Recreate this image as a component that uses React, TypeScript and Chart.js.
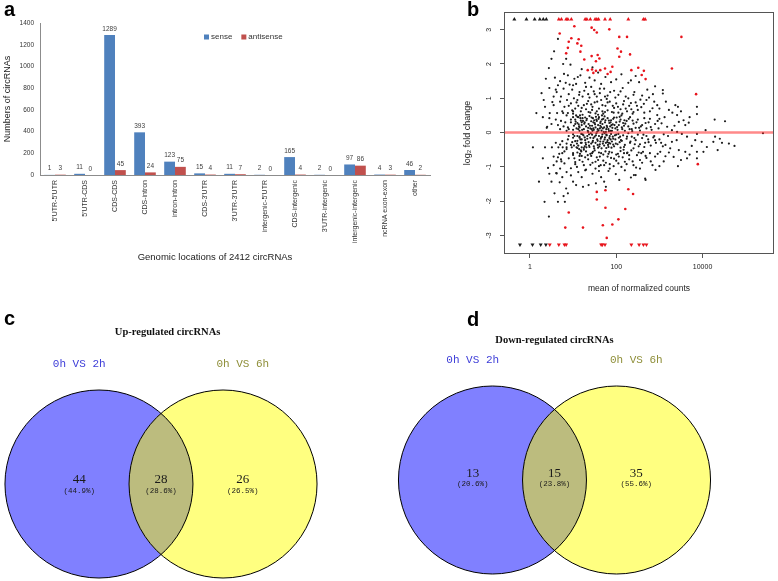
import React, { useEffect, useRef } from 'react';
import { Chart, registerables } from 'chart.js';

Chart.register(...registerables);

// ---------------- Panel a : genomic locations ----------------
const barCategories = [
  "5'UTR-5'UTR", "5'UTR-CDS", 'CDS-CDS', 'CDS-intron', 'intron-intron', "CDS-3'UTR",
  "3'UTR-3'UTR", "intergenic-5'UTR", 'CDS-intergenic', "3'UTR-intergenic",
  'intergenic-intergenic', 'ncRNA exon-exon', 'other',
];
const senseCounts = [1, 11, 1289, 393, 123, 15, 11, 2, 165, 2, 97, 4, 46];
const antisenseCounts = [3, 0, 45, 24, 75, 4, 7, 0, 4, 0, 86, 3, 2];
const barSeriesNames = ['sense', 'antisense'];
const barYTicks = [0, 200, 400, 600, 800, 1000, 1200, 1400];
const barXTitle = 'Genomic locations of 2412 circRNAs';
const barYTitle = 'Numbers of circRNAs';

// ---------------- Panel b : MA plot (x = log10 mean of normalized counts, y = log2 fold change) ----------------
const maXTicks = [0, 2, 4];
const maXTickLabels = ['1', '100', '10000'];
const maYTicks = [-3, -2, -1, 0, 1, 2, 3];
const maXTitle = 'mean of normalized counts';
const maYTitle = 'log\u2082 fold change';
const maAxisMin = -0.6;
const maAxisMax = 5.655;
const maYMin = -3.54;
const maYMax = 3.51;
const maCapTop = 3.3;
const maCapBottom = -3.27;

const maBlackPoints: number[][] = [
  // lfc > 1
  [0.65, 2.73], [0.56, 2.37], [0.5, 2.15], [0.44, 1.88], [0.37, 1.57], [0.27, 1.15], [0.77, 2.0], [0.84, 2.15],
  [0.79, 1.71], [0.65, 1.38], [0.62, 1.18], [0.94, 1.98], [0.88, 1.67], [1.03, 1.57], [1.11, 1.62],
  [1.07, 1.42], [1.17, 1.67], [1.3, 1.33], [1.42, 1.33], [1.65, 1.42], [1.88, 1.47], [2.28, 1.45], [2.34, 1.52],
  [2.53, 1.47], [3.08, 1.24], [3.08, 1.14], [0.98, 1.25], [1.15, 1.18], [1.22, 1.05], [1.35, 1.12], [1.48, 1.2],
  [1.55, 1.05], [1.62, 1.15], [1.72, 1.28], [1.8, 1.08], [1.95, 1.22], [2.05, 1.1], [2.15, 1.3], [2.22, 1.05],
  [2.42, 1.18], [2.6, 1.08], [2.72, 1.25], [2.85, 1.12], [1.28, 1.45], [1.38, 1.6], [1.5, 1.52], [1.58, 1.75],
  [1.75, 1.62], [2.0, 1.55], [2.12, 1.7], [0.72, 1.05], [0.9, 1.12], [1.0, 1.38], [0.58, 1.6], [0.83, 1.45],
  [1.2, 1.85], [1.45, 1.9], [2.45, 1.65], [2.9, 1.35],
  // 0.5 .. 1.3
  [0.52, 0.89], [0.15, 0.57], [0.46, 0.57], [0.63, 0.57], [0.77, 0.57], [0.88, 0.57], [1.0, 0.55], [0.35, 0.75],
  [0.55, 0.8], [0.7, 0.9], [0.8, 0.75], [0.95, 0.85], [1.05, 0.7], [1.1, 0.95], [1.18, 0.62], [1.25, 0.8],
  [1.3, 0.68], [1.35, 0.92], [1.4, 0.58], [1.45, 0.75], [1.5, 0.88], [1.55, 0.62], [1.6, 0.7], [1.65, 0.95],
  [1.7, 0.55], [1.75, 0.78], [1.8, 0.65], [1.85, 0.9], [1.9, 0.6], [1.95, 0.72], [2.0, 0.85], [2.05, 0.58],
  [2.1, 0.68], [2.18, 0.92], [2.25, 0.62], [2.3, 0.78], [2.38, 0.55], [2.45, 0.88], [2.5, 0.66], [2.58, 0.74],
  [2.65, 0.58], [2.7, 0.95], [2.78, 0.62], [2.84, 0.71], [2.95, 0.8], [2.95, 0.51], [3.22, 0.66], [3.37, 0.8],
  [3.43, 0.75], [3.41, 0.51], [3.87, 0.75], [3.87, 0.54], [1.22, 0.52], [1.42, 0.82], [1.58, 0.52], [1.68, 0.62],
  [1.78, 0.98], [2.12, 0.5], [2.35, 0.68], [1.12, 0.78], [0.98, 0.65],
  [1.02, 1.0], [1.08, 0.88], [1.14, 1.1], [1.2, 0.72], [1.26, 1.22], [1.32, 0.84], [1.38, 1.02], [1.44, 0.66],
  [1.5, 1.12], [1.56, 0.9], [1.62, 1.28], [1.68, 0.8], [1.74, 1.05], [1.8, 0.88], [1.86, 1.18], [1.92, 0.78],
  [1.98, 1.02], [2.04, 0.75], [2.1, 1.2], [2.16, 0.82], [2.22, 0.7], [2.28, 1.0], [2.34, 0.86], [2.4, 1.1],
  [2.48, 0.78], [2.56, 0.96], [2.64, 0.84], [2.76, 1.02], [2.88, 0.9], [3.0, 0.7], [3.15, 0.9], [3.3, 0.58],
  [3.5, 0.62], [3.7, 0.45], [0.6, 1.25], [0.7, 1.5], [0.78, 1.28], [0.86, 0.95], [0.92, 1.4], [0.55, 1.05],
  [0.45, 1.3], [0.32, 0.95],
  // 0 .. 0.5
  [0.39, 0.14], [0.4, 0.17], [0.9, 0.1], [0.95, 0.3], [1.0, 0.45], [1.02, 0.2], [1.05, 0.38], [1.08, 0.12],
  [1.1, 0.28], [1.12, 0.45], [1.15, 0.05], [1.18, 0.35], [1.2, 0.22], [1.22, 0.42], [1.25, 0.1], [1.27, 0.3],
  [1.3, 0.18], [1.32, 0.4], [1.34, 0.05], [1.36, 0.25], [1.38, 0.48], [1.4, 0.12], [1.42, 0.33], [1.44, 0.2],
  [1.46, 0.42], [1.48, 0.08], [1.5, 0.28], [1.52, 0.15], [1.54, 0.38], [1.56, 0.03], [1.58, 0.22], [1.6, 0.45],
  [1.62, 0.12], [1.64, 0.32], [1.66, 0.06], [1.68, 0.25], [1.7, 0.4], [1.72, 0.15], [1.74, 0.3], [1.76, 0.02],
  [1.78, 0.2], [1.8, 0.42], [1.82, 0.1], [1.84, 0.28], [1.86, 0.18], [1.88, 0.36], [1.9, 0.05], [1.92, 0.24],
  [1.95, 0.44], [1.98, 0.12], [2.0, 0.3], [2.03, 0.08], [2.06, 0.22], [2.1, 0.38], [2.13, 0.15], [2.16, 0.28],
  [2.2, 0.05], [2.24, 0.34], [2.28, 0.18], [2.32, 0.45], [2.36, 0.1], [2.4, 0.26], [2.45, 0.14], [2.5, 0.38],
  [2.55, 0.06], [2.6, 0.22], [2.65, 0.42], [2.7, 0.12], [2.75, 0.3], [2.82, 0.08], [2.9, 0.25], [3.05, 0.27],
  [3.18, 0.17], [3.29, 0.07], [3.41, 0.02], [3.6, 0.22], [3.68, 0.29], [3.56, 0.36], [3.45, 0.31], [4.28, 0.38],
  [4.52, 0.33], [4.07, 0.07], [3.0, 0.4], [3.12, 0.45], [2.98, 0.12], [3.35, 0.2], [1.14, 0.18], [1.28, 0.44],
  [1.47, 0.3], [1.53, 0.46], [1.63, 0.2], [1.73, 0.47], [1.83, 0.35], [1.57, 0.1], [1.67, 0.38], [1.77, 0.1],
  [1.87, 0.05], [1.93, 0.4], [2.08, 0.46], [2.18, 0.2], [2.38, 0.35], [1.35, 0.14], [1.45, 0.05], [1.65, 0.16],
  [0.3, 0.45], [0.45, 0.42], [0.6, 0.38], [0.72, 0.34], [0.82, 0.3], [0.5, 0.25], [0.65, 0.22], [0.78, 0.18],
  [0.88, 0.15], [0.7, 0.1], [0.85, 0.05], [1.15, 0.15], [1.05, 0.25], [0.95, 0.38], [0.85, 0.5], [0.75, 0.62],
  [1.2, 0.3], [1.1, 0.46], [1.0, 0.62], [0.9, 0.78], [1.0, 0.08], [1.06, 0.32], [1.12, 0.1], [1.17, 0.42],
  [1.07, 0.5],
  // -0.5 .. 0
  [0.07, -0.43], [0.35, -0.43], [0.51, -0.43], [0.66, -0.43], [0.76, -0.43], [0.85, -0.43], [0.97, -0.43],
  [1.08, -0.43], [1.2, -0.43], [1.31, -0.43], [0.6, -0.3], [0.75, -0.25], [0.88, -0.2], [1.0, -0.15], [1.1, -0.1],
  [0.7, -0.35], [0.85, -0.32], [0.98, -0.28], [1.1, -0.24], [1.2, -0.2], [0.9, -0.1], [1.0, -0.05],
  [1.12, -0.38], [1.15, -0.12], [1.18, -0.3], [1.22, -0.05], [1.25, -0.45], [1.28, -0.22], [1.3, -0.35],
  [1.33, -0.1], [1.36, -0.28], [1.38, -0.42], [1.4, -0.15], [1.42, -0.32], [1.44, -0.06], [1.46, -0.24],
  [1.48, -0.4], [1.5, -0.12], [1.52, -0.3], [1.54, -0.02], [1.56, -0.2], [1.58, -0.44], [1.6, -0.1],
  [1.62, -0.34], [1.64, -0.18], [1.66, -0.46], [1.68, -0.05], [1.7, -0.26], [1.72, -0.38], [1.74, -0.14],
  [1.76, -0.3], [1.78, -0.08], [1.8, -0.22], [1.82, -0.42], [1.84, -0.16], [1.86, -0.32], [1.88, -0.04],
  [1.9, -0.26], [1.92, -0.12], [1.95, -0.4], [1.98, -0.2], [2.0, -0.06], [2.03, -0.34], [2.06, -0.15],
  [2.1, -0.44], [2.13, -0.24], [2.16, -0.08], [2.2, -0.36], [2.24, -0.18], [2.28, -0.02], [2.32, -0.3],
  [2.36, -0.12], [2.4, -0.46], [2.45, -0.22], [2.5, -0.06], [2.55, -0.34], [2.6, -0.16], [2.65, -0.42],
  [2.7, -0.1], [2.75, -0.28], [2.8, -0.38], [2.86, -0.14], [2.92, -0.3], [3.0, -0.2], [3.08, -0.4],
  [3.14, -0.36], [3.25, -0.46], [3.29, -0.27], [3.52, -0.04], [3.64, -0.12], [3.83, -0.22], [3.75, -0.39],
  [3.87, -0.04], [3.98, -0.27], [4.25, -0.27], [4.29, -0.12], [4.45, -0.3], [4.61, -0.32], [4.74, -0.39],
  [5.4, -0.02], [3.2, -0.1], [3.4, -0.22], [3.1, -0.05], [1.57, -0.36], [1.67, -0.12], [1.77, -0.45],
  [1.87, -0.2], [1.47, -0.16], [1.37, -0.05], [1.27, -0.14], [1.63, -0.26], [1.73, -0.02], [1.83, -0.3],
  [1.93, -0.35], [2.08, -0.28], [2.18, -0.42], [1.15, -0.15], [1.05, -0.25], [0.95, -0.36], [0.85, -0.48],
  [1.03, -0.1], [1.09, -0.32], [1.14, -0.48], [1.19, -0.04], [1.02, -0.38], [4.1, -0.42], [4.4, -0.18],
  // extra core
  [1.21, 0.08], [1.24, -0.08], [1.26, 0.26], [1.29, -0.3], [1.31, 0.36], [1.33, -0.18], [1.35, 0.02],
  [1.37, -0.38], [1.39, 0.2], [1.41, -0.02], [1.43, 0.44], [1.45, -0.28], [1.47, 0.12], [1.49, -0.46],
  [1.51, 0.24], [1.53, -0.08], [1.55, 0.34], [1.57, -0.24], [1.59, 0.06], [1.61, -0.4], [1.63, 0.28],
  [1.65, -0.14], [1.67, 0.5], [1.69, -0.32], [1.71, 0.02], [1.73, -0.2], [1.75, 0.36], [1.77, -0.06],
  [1.79, 0.16], [1.81, -0.36], [1.83, 0.04], [1.85, -0.1], [1.87, 0.3], [1.89, -0.44], [1.91, 0.14],
  [1.93, -0.18], [1.96, 0.22], [1.99, -0.32], [2.02, 0.16], [2.05, -0.04], [2.08, 0.32], [2.11, -0.22],
  [2.14, 0.1], [2.17, -0.5], [2.21, 0.26], [2.25, -0.12], [2.29, 0.4], [2.33, -0.26], [2.37, 0.04],
  [2.42, -0.16], [2.47, 0.3], [2.52, -0.4], [2.57, 0.18], [2.63, -0.06], [2.68, 0.28], [2.74, -0.2],
  [2.8, 0.16], [2.88, -0.1], [2.96, 0.34], [3.04, -0.3], [1.16, 0.5], [1.19, -0.55], [1.36, 0.6], [1.44, -0.6],
  [1.52, 0.56], [1.6, -0.58], [1.74, 0.6], [1.84, -0.56], [1.94, 0.58], [2.04, -0.62], [2.14, 0.55],
  [2.26, -0.58], [2.4, 0.6], [2.58, -0.6], [1.13, 0.24], [1.17, -0.2], [1.23, 0.34], [1.27, -0.4], [1.43, 0.1],
  [1.49, 0.36], [1.59, 0.4], [1.69, 0.12], [1.79, -0.28], [1.89, 0.22], [1.97, -0.08], [2.01, 0.44],
  [2.09, -0.12], [2.19, 0.36], [2.31, 0.1], [2.43, -0.34], [2.53, 0.14], [2.67, -0.3], [2.78, 0.4], [2.9, -0.22],
  // -1.3 .. -0.5
  [0.75, -0.6], [0.65, -0.72], [1.2, -0.3], [1.1, -0.45], [1.0, -0.6], [0.9, -0.75], [0.8, -0.9], [0.7, -1.05],
  [1.25, -0.5], [1.15, -0.68], [1.05, -0.86], [0.95, -1.04], [0.62, -0.84], [0.73, -0.84], [0.55, -0.7],
  [0.68, -0.62], [0.8, -0.55], [1.0, -0.65], [1.05, -0.92], [1.1, -0.58], [1.15, -0.8], [1.2, -0.68],
  [1.25, -0.95], [1.3, -0.55], [1.35, -0.78], [1.4, -0.62], [1.45, -0.88], [1.5, -0.52], [1.55, -0.72],
  [1.6, -0.98], [1.65, -0.6], [1.7, -0.82], [1.75, -0.55], [1.8, -0.7], [1.85, -0.92], [1.9, -0.58],
  [1.95, -0.76], [2.0, -0.64], [2.05, -0.9], [2.1, -0.54], [2.15, -0.72], [2.2, -0.85], [2.25, -0.6],
  [2.3, -0.78], [2.35, -0.52], [2.4, -0.95], [2.48, -0.66], [2.55, -0.8], [2.62, -0.56], [2.7, -0.74],
  [2.84, -0.95], [3.02, -0.56], [3.14, -0.69], [3.33, -0.71], [3.45, -0.51], [3.6, -0.56], [3.64, -0.75],
  [3.87, -0.56], [3.87, -0.75], [4.02, -0.56], [4.35, -0.51], [3.43, -0.98], [3.0, -0.98], [2.9, -0.7],
  [2.78, -0.6], [1.42, -0.68], [1.52, -0.85], [1.62, -0.7], [1.72, -0.95], [1.82, -0.62], [1.28, -0.72],
  [1.18, -0.52],
  [1.03, -0.75], [1.09, -1.0], [1.16, -0.62], [1.22, -0.85], [1.28, -1.1], [1.34, -0.66], [1.4, -0.94],
  [1.46, -0.56], [1.52, -1.05], [1.58, -0.8], [1.64, -0.95], [1.7, -0.64], [1.76, -0.88], [1.82, -1.12],
  [1.88, -0.74], [1.94, -0.98], [2.0, -0.82], [2.06, -0.7], [2.12, -1.0], [2.18, -0.6], [2.24, -0.92],
  [2.3, -0.66], [2.38, -0.84], [2.46, -1.02], [2.52, -0.58], [2.6, -0.88], [2.68, -0.68], [2.8, -0.84],
  [2.96, -0.62], [3.1, -0.84], [3.22, -0.58], [3.5, -0.8], [3.7, -0.64], [0.55, -0.95], [0.45, -1.2],
  [0.3, -0.75], [0.85, -1.15], [0.72, -0.78],
  // < -1
  [2.91, -1.09], [2.68, -1.38], [2.41, -1.24], [2.34, -1.31], [2.45, -1.24], [2.67, -1.34], [2.07, -1.38],
  [1.99, -1.21], [1.76, -1.58], [1.72, -1.43], [1.53, -1.48], [1.36, -1.53], [1.23, -1.58], [1.07, -1.53],
  [1.0, -1.43], [0.84, -1.63], [0.69, -1.45], [0.62, -1.19], [0.5, -1.43], [0.21, -1.43], [0.57, -1.77],
  [0.78, -1.85], [0.88, -1.77], [0.34, -2.02], [0.65, -2.02], [0.81, -2.02], [0.44, -2.45], [0.42, -1.03],
  [0.61, -1.18], [1.12, -1.15], [1.3, -1.08], [1.45, -1.2], [1.6, -1.12], [1.85, -1.05], [2.2, -1.1],
  [2.55, -1.05], [1.2, -1.3], [0.95, -1.25], [1.65, -1.3], [0.75, -1.3],
];

const maRedPoints: number[][] = [
  [1.03, 3.1], [0.69, 2.89], [0.9, 2.65], [0.96, 2.75], [0.88, 2.47], [0.84, 2.31], [1.1, 2.6], [1.13, 2.72],
  [1.19, 2.53], [1.17, 2.36], [1.43, 3.06], [1.49, 2.99], [1.55, 2.92], [1.84, 3.01], [1.26, 2.13], [1.43, 2.23],
  [1.57, 2.26], [1.61, 2.16], [1.53, 2.08], [1.34, 1.82], [1.44, 1.84], [1.47, 1.74], [1.53, 1.8], [1.63, 1.82],
  [1.74, 1.87], [1.8, 1.71], [1.87, 1.77], [1.91, 1.92], [2.03, 2.45], [2.07, 2.79], [2.11, 2.36], [2.07, 2.21],
  [2.25, 2.79], [2.32, 2.28], [2.35, 1.82], [2.51, 1.89], [2.59, 1.68], [2.64, 1.8], [2.68, 1.56], [3.29, 1.87],
  [3.51, 2.79], [3.85, 1.12],
  [1.55, -1.73], [1.55, -1.95], [1.75, -1.68], [1.75, -2.19], [0.9, -2.33], [0.82, -2.77], [1.23, -2.77],
  [1.69, -2.7], [1.78, -3.07], [1.91, -2.68], [2.05, -2.53], [2.21, -2.23], [2.28, -1.65], [2.39, -1.79],
  [3.89, -0.92],
];

const maBlackUpTriX = [-0.36, -0.08, 0.11, 0.23, 0.31, 0.38];
const maRedUpTriX = [0.67, 0.73, 0.84, 0.88, 0.96, 1.28, 1.32, 1.4, 1.51, 1.55, 1.59, 1.74, 1.86, 2.28, 2.63, 2.67];
const maBlackDownTriX = [-0.23, 0.06, 0.25, 0.37];
const maRedDownTriX = [0.46, 0.67, 0.8, 0.84, 1.65, 1.68, 1.74, 2.35, 2.53, 2.63, 2.7];

// ---------------- Panels c, d : Venn diagrams ----------------
const vennSetNames = ['0h VS 2h', '0h VS 6h'];
const upTitle = 'Up-regulated circRNAs';
const upCounts = [44, 28, 26];
const upPercents = ['44.9%', '28.6%', '26.5%'];
const downTitle = 'Down-regulated circRNAs';
const downCounts = [13, 15, 35];
const downPercents = ['20.6%', '23.8%', '55.6%'];
const vennCenters = [-0.66, 0.66];
const vennRadius = 1;
const vennRegionX = [-0.87, 0, 0.87];

const SANS = '"Liberation Sans", Arial, sans-serif';
const SERIF = '"Liberation Serif", "Times New Roman", serif';
const MONO = '"Liberation Mono", "DejaVu Sans Mono", monospace';

const toXY = (pts: number[][]) => pts.map(([x, y]) => ({ x, y }));

function makeBarChart(canvas: HTMLCanvasElement) {
  const colors = ['#4f81bd', '#c0504d'];
  const valueLabels = {
    id: 'barValueLabels',
    afterDatasetsDraw(chart: any) {
      const ctx = chart.ctx;
      ctx.save();
      ctx.font = `6.5px ${SANS}`;
      ctx.fillStyle = '#404040';
      ctx.textAlign = 'center';
      ctx.textBaseline = 'bottom';
      chart.data.datasets.forEach((ds: any, i: number) => {
        chart.getDatasetMeta(i).data.forEach((bar: any, j: number) => {
          ctx.fillText(String(ds.data[j]), bar.x, bar.y - 3);
        });
      });
      ctx.restore();
    },
  };
  const legend = {
    id: 'barLegend',
    afterDraw(chart: any) {
      const { ctx, chartArea } = chart;
      ctx.save();
      ctx.font = `8px ${SANS}`;
      ctx.textBaseline = 'middle';
      ctx.textAlign = 'left';
      let x = chartArea.left + 164;
      const y = chartArea.top + 14;
      chart.data.datasets.forEach((ds: any) => {
        ctx.fillStyle = ds.backgroundColor;
        ctx.fillRect(x, y - 2.5, 5, 5);
        x += 7;
        ctx.fillStyle = '#333';
        ctx.fillText(ds.label, x, y);
        x += ctx.measureText(ds.label).width + 9;
      });
      ctx.restore();
    },
  };
  return new Chart(canvas, {
    type: 'bar',
    data: {
      labels: barCategories,
      datasets: [
        { label: barSeriesNames[0], data: senseCounts, backgroundColor: colors[0], borderWidth: 0, categoryPercentage: 0.72, barPercentage: 1 },
        { label: barSeriesNames[1], data: antisenseCounts, backgroundColor: colors[1], borderWidth: 0, categoryPercentage: 0.72, barPercentage: 1 },
      ],
    },
    options: {
      responsive: false,
      animation: false,
      layout: { padding: { top: 23, right: 4, left: 0, bottom: 0 } },
      plugins: {
        legend: { display: false },
        tooltip: { enabled: false },
        title: {
          display: true, position: 'bottom', text: barXTitle, color: '#222',
          font: { family: SANS, size: 9.5, weight: 'normal' }, padding: { top: 4, bottom: 9 },
        },
      },
      scales: {
        x: {
          grid: { display: false, drawTicks: false },
          border: { display: true, color: '#8c8c8c' },
          ticks: { autoSkip: false, maxRotation: 90, minRotation: 90, padding: 5, color: '#333', font: { family: SANS, size: 7 } },
          afterFit: (s: any) => { s.height = 72.6; },
        },
        y: {
          min: 0, max: 1400,
          afterBuildTicks: (s: any) => { s.ticks = barYTicks.map((v) => ({ value: v })); },
          grid: { display: false, drawTicks: false },
          border: { display: true, color: '#8c8c8c' },
          ticks: { padding: 6, color: '#333', font: { family: SANS, size: 6.5 }, callback: (v: any) => String(v) },
          title: { display: true, text: barYTitle, color: '#222', font: { family: SANS, size: 9 }, padding: { top: 2.6, bottom: 0 } },
          afterFit: (s: any) => { s.width = 40; },
        },
      },
    } as any,
    plugins: [valueLabels, legend],
  });
}

function makeMAChart(canvas: HTMLCanvasElement) {
  const frame = {
    id: 'maFrame',
    afterDraw(chart: any) {
      const { ctx, chartArea: a } = chart;
      ctx.save();
      ctx.strokeStyle = '#555';
      ctx.lineWidth = 1;
      ctx.strokeRect(Math.round(a.left) + 0.5, Math.round(a.top) + 0.5, Math.round(a.right - a.left) - 1, Math.round(a.bottom - a.top) - 1);
      ctx.restore();
    },
  };
  const black = '#1c1c1c';
  const red = '#e8141c';
  return new Chart(canvas, {
    type: 'scatter',
    data: {
      datasets: [
        { data: [{ x: maAxisMin, y: 0 }, { x: maAxisMax, y: 0 }], showLine: true, borderColor: 'rgba(255,40,40,0.55)', borderWidth: 2.5, pointRadius: 0 },
        { data: maRedUpTriX.map((x) => ({ x, y: maCapTop })), pointStyle: 'triangle', backgroundColor: red, pointRadius: 2.3, borderWidth: 0 },
        { data: maRedDownTriX.map((x) => ({ x, y: maCapBottom })), pointStyle: 'triangle', rotation: 180, backgroundColor: red, pointRadius: 2.3, borderWidth: 0 },
        { data: toXY(maRedPoints), backgroundColor: red, pointRadius: 1.3, borderWidth: 0 },
        { data: maBlackUpTriX.map((x) => ({ x, y: maCapTop })), pointStyle: 'triangle', backgroundColor: black, pointRadius: 2.3, borderWidth: 0 },
        { data: maBlackDownTriX.map((x) => ({ x, y: maCapBottom })), pointStyle: 'triangle', rotation: 180, backgroundColor: black, pointRadius: 2.3, borderWidth: 0 },
        { data: toXY(maBlackPoints), backgroundColor: black, pointRadius: 1.1, borderWidth: 0 },
      ],
    },
    options: {
      responsive: false,
      animation: false,
      layout: { padding: { top: 12, right: 2, left: 0, bottom: 0 } },
      plugins: { legend: { display: false }, tooltip: { enabled: false } },
      scales: {
        x: {
          type: 'linear', min: maAxisMin, max: maAxisMax,
          afterBuildTicks: (s: any) => { s.ticks = maXTicks.map((v) => ({ value: v })); },
          grid: { display: true, drawOnChartArea: false, drawTicks: true, tickLength: 4, color: '#555' },
          border: { display: false },
          ticks: { padding: 5, color: '#222', font: { family: SANS, size: 7 }, callback: (v: any) => maXTickLabels[maXTicks.indexOf(Number(v))] },
          title: { display: true, text: maXTitle, color: '#222', font: { family: SANS, size: 8.5 }, padding: { top: 0, bottom: 6 } },
          afterFit: (s: any) => { s.height = 46; },
        },
        y: {
          type: 'linear', min: maYMin, max: maYMax,
          afterBuildTicks: (s: any) => { s.ticks = maYTicks.map((v) => ({ value: v })); },
          grid: { display: true, drawOnChartArea: false, drawTicks: true, tickLength: 4, color: '#555' },
          border: { display: false },
          ticks: { padding: 8, minRotation: 90, maxRotation: 90, crossAlign: 'center', color: '#222', font: { family: SANS, size: 7 }, callback: (v: any) => String(v) },
          title: { display: true, text: maYTitle, color: '#222', font: { family: SANS, size: 9 }, padding: { top: 22, bottom: 0 } },
          afterFit: (s: any) => { s.width = 64; },
        },
      },
    } as any,
    plugins: [frame],
  });
}

interface VennSpec {
  title: string; counts: number[]; percents: string[];
  titleX: number; titleY: number; nameY: number; countY: number; pctY: number;
  xMin: number; xMax: number; yMin: number; yMax: number;
}

function makeVennChart(canvas: HTMLCanvasElement, spec: VennSpec) {
  const venn = {
    id: 'vennDraw',
    afterDatasetsDraw(chart: any) {
      const { ctx } = chart;
      const xs = chart.scales.x;
      const ys = chart.scales.y;
      const px = (v: number) => xs.getPixelForValue(v);
      const py = (v: number) => ys.getPixelForValue(v);
      const r = px(vennRadius) - px(0);
      const circle = (i: number) => { ctx.beginPath(); ctx.arc(px(vennCenters[i]), py(0), r, 0, Math.PI * 2); };
      ctx.save();
      circle(0); ctx.fillStyle = '#8080ff'; ctx.fill();
      circle(1); ctx.fillStyle = '#ffff80'; ctx.fill();
      ctx.save(); circle(0); ctx.clip(); circle(1); ctx.fillStyle = '#bcbc7e'; ctx.fill(); ctx.restore();
      ctx.strokeStyle = '#000'; ctx.lineWidth = 1;
      circle(0); ctx.stroke();
      circle(1); ctx.stroke();
      ctx.textAlign = 'center';
      ctx.textBaseline = 'middle';
      ctx.fillStyle = '#111';
      ctx.font = `bold 10.5px ${SERIF}`;
      ctx.fillText(spec.title, px(spec.titleX), py(spec.titleY));
      const nameColors = ['#3c3cd8', '#8e8e38'];
      ctx.font = `11px ${MONO}`;
      vennSetNames.forEach((n, i) => { ctx.fillStyle = nameColors[i]; ctx.fillText(n, px(vennRegionX[i * 2]), py(spec.nameY)); });
      ctx.fillStyle = '#1a1a1a';
      ctx.font = `13px ${SERIF}`;
      spec.counts.forEach((c, i) => ctx.fillText(String(c), px(vennRegionX[i]), py(spec.countY)));
      ctx.font = `7.5px ${MONO}`;
      spec.percents.forEach((p, i) => ctx.fillText(`(${p})`, px(vennRegionX[i]), py(spec.pctY)));
      ctx.restore();
    },
  };
  return new Chart(canvas, {
    type: 'scatter',
    data: { datasets: [{ data: vennCenters.map((x) => ({ x, y: 0 })), pointRadius: 0 }] },
    options: {
      responsive: false,
      animation: false,
      layout: { padding: 0 },
      plugins: { legend: { display: false }, tooltip: { enabled: false } },
      scales: {
        x: { type: 'linear', display: false, min: spec.xMin, max: spec.xMax },
        y: { type: 'linear', display: false, min: spec.yMin, max: spec.yMax },
      },
    } as any,
    plugins: [venn],
  });
}

const upSpec: VennSpec = {
  title: upTitle, counts: upCounts, percents: upPercents,
  titleX: 0.07, titleY: 1.61, nameY: 1.28, countY: 0.043, pctY: -0.074,
  xMin: -161 / 94, xMax: 229 / 94, yMin: -97 / 94, yMax: 184 / 94,
};
const downSpec: VennSpec = {
  title: downTitle, counts: downCounts, percents: downPercents,
  titleX: 0.0, titleY: 1.49, nameY: 1.277, countY: 0.064, pctY: -0.048,
  xMin: -164.5 / 94, xMax: 223.5 / 94, yMin: -101 / 94, yMax: 180 / 94,
};

const letter = (left: number, top: number): React.CSSProperties => ({
  position: 'absolute', left, top, fontFamily: SANS, fontWeight: 'bold', fontSize: 20, lineHeight: '20px', color: '#000',
});

export default function App() {
  const aRef = useRef<HTMLCanvasElement>(null);
  const bRef = useRef<HTMLCanvasElement>(null);
  const cRef = useRef<HTMLCanvasElement>(null);
  const dRef = useRef<HTMLCanvasElement>(null);

  useEffect(() => {
    const charts = [
      makeBarChart(aRef.current!),
      makeMAChart(bRef.current!),
      makeVennChart(cRef.current!, upSpec),
      makeVennChart(dRef.current!, downSpec),
    ];
    return () => charts.forEach((c) => c.destroy());
  }, []);

  return (
    <div style={{ position: 'absolute', left: 0, top: 0, width: 778, height: 581, background: '#fff', overflow: 'hidden' }}>
      <canvas ref={aRef} width={434} height={272} style={{ position: 'absolute', left: 0, top: 0 }} />
      <canvas ref={bRef} width={338} height={300} style={{ position: 'absolute', left: 440, top: 0 }} />
      <canvas ref={cRef} width={390} height={281} style={{ position: 'absolute', left: 0, top: 300 }} />
      <canvas ref={dRef} width={388} height={281} style={{ position: 'absolute', left: 390, top: 300 }} />
      <div style={letter(4, -1)}>a</div>
      <div style={letter(467, -1)}>b</div>
      <div style={letter(4, 308)}>c</div>
      <div style={letter(467, 309)}>d</div>
    </div>
  );
}
